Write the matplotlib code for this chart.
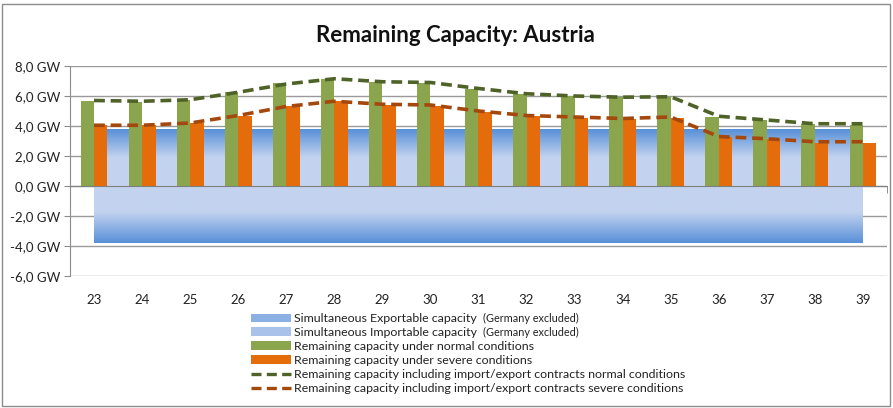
import matplotlib.pyplot as plt
import numpy as np
from matplotlib.colors import LinearSegmentedColormap
from matplotlib.patches import Patch, Rectangle
from matplotlib.lines import Line2D

plt.rcParams['font.family'] = ['Lato', 'DejaVu Sans']

# Data (GW)
weeks = ["23", "24", "25", "26", "27", "28", "29", "30", "31",
         "32", "33", "34", "35", "36", "37", "38", "39"]
exportable = [3.8] * 17
importable = [-3.8] * 17
normal = [5.70, 5.60, 5.72, 6.28, 6.84, 7.15, 6.95, 6.86, 6.48,
          6.14, 5.99, 5.92, 5.92, 4.58, 4.38, 4.16, 4.09]
severe = [4.10, 4.05, 4.20, 4.69, 5.32, 5.65, 5.43, 5.32, 4.94,
          4.65, 4.54, 4.49, 4.56, 3.30, 3.13, 2.90, 2.86]
normal_contracts = [5.70, 5.65, 5.75, 6.25, 6.80, 7.15, 6.95, 6.90, 6.50,
                    6.15, 6.00, 5.92, 5.95, 4.65, 4.40, 4.15, 4.15]
severe_contracts = [4.05, 4.05, 4.20, 4.70, 5.30, 5.65, 5.45, 5.40, 5.00,
                    4.70, 4.60, 4.50, 4.60, 3.30, 3.15, 2.95, 2.95]

# Colours
dark_blue = "#5890d8"
light_blue = "#c3d3ef"
green = "#8aa54e"
orange = "#e46c0a"
green_dash = "#4f6228"
orange_dash = "#a4480e"

fig = plt.figure(figsize=(8.93, 4.08), dpi=100)
ax = fig.add_axes([70 / 893, 1 - 276 / 408, 817 / 893, 210 / 408])

x = np.arange(len(weeks))

# Gradient-filled capacity areas
cmap = LinearSegmentedColormap.from_list("blues", [light_blue, dark_blue])
area_exp = ax.fill_between(x, 0, exportable, facecolor="none", edgecolor="none", zorder=1)
area_imp = ax.fill_between(x, 0, importable, facecolor="none", edgecolor="none", zorder=1)

grad_exp = np.clip((np.linspace(0, 1, 200) - 0.5) / 0.5, 0, 1)[:, None]
im = ax.imshow(grad_exp, cmap=cmap, aspect="auto", origin="lower",
               extent=[x[0], x[-1], 0, max(exportable)], zorder=1, vmin=0, vmax=1)
im.set_clip_path(area_exp.get_paths()[0], transform=ax.transData)

grad_imp = np.clip((np.linspace(1, 0, 200) - 0.45) / 0.55, 0, 1)[:, None]
im2 = ax.imshow(grad_imp, cmap=cmap, aspect="auto", origin="lower",
                extent=[x[0], x[-1], min(importable), 0], zorder=1, vmin=0, vmax=1)
im2.set_clip_path(area_imp.get_paths()[0], transform=ax.transData)

# Bars
w = 0.28
ax.bar(x - w / 2, normal, w, color=green, zorder=3)
ax.bar(x + w / 2, severe, w, color=orange, zorder=3)

# Dashed lines
ax.plot(x, normal_contracts, color=green_dash, lw=2.6, dashes=(3, 1.6), zorder=4)
ax.plot(x, severe_contracts, color=orange_dash, lw=2.6, dashes=(3, 1.6), zorder=4)

# Axes styling
ax.set_xlim(-0.5, len(weeks) - 0.5)
ax.set_ylim(-6, 8)
ax.set_yticks(np.arange(-6, 9, 2))
ax.set_yticklabels([f"{v:.1f} GW".replace(".", ",") for v in np.arange(-6, 9, 2)])
ax.yaxis.grid(True, color="#9a9a9a", lw=1)
ax.set_axisbelow(True)
for s in ["top", "right"]:
    ax.spines[s].set_visible(False)
ax.spines["left"].set_color("#8c8c8c")
ax.spines["bottom"].set_position(("data", 0))
ax.spines["bottom"].set_color("#7f7f7f")
ax.spines["bottom"].set_zorder(5)
ax.set_xticks(x)
ax.set_xticklabels(weeks)
ax.set_xticks(np.arange(-0.5, len(weeks), 1), minor=True)
ax.tick_params(axis="x", which="major", length=0, pad=78, labelsize=9.5, colors="#222222")
ax.tick_params(axis="x", which="minor", length=5, color="#7f7f7f", direction="out")
ax.tick_params(axis="y", length=4, color="#8c8c8c", labelsize=9.5, pad=3, labelcolor="#222222")

fig.text(455 / 893, 1 - 35 / 408, "Remaining Capacity: Austria", ha="center", va="center",
         fontsize=16, fontweight="bold", color="#111111")

# Legend
handles = [Patch(facecolor="#8ab0e4"), Patch(facecolor="#a9c2ea"),
           Patch(facecolor=green), Patch(facecolor=orange),
           Line2D([], [], color=green_dash, lw=2.4, dashes=(3, 1.6)),
           Line2D([], [], color=orange_dash, lw=2.4, dashes=(3, 1.6))]
labels = ["Simultaneous Exportable capacity", "Simultaneous Importable capacity",
          "Remaining capacity under normal conditions",
          "Remaining capacity under severe conditions",
          "Remaining capacity including import/export contracts normal conditions",
          "Remaining capacity including import/export contracts severe conditions"]
leg = fig.legend(handles, labels, loc="upper left", bbox_to_anchor=(245 / 893, 1 - 307 / 408),
                 frameon=False, fontsize=8.9, handlelength=3.2, handleheight=0.7,
                 labelspacing=0.24, handletextpad=0.25, borderpad=0)
for t in leg.get_texts():
    t.set_color("#222222")

fig.canvas.draw()
r = fig.canvas.get_renderer()
for t in leg.get_texts()[:2]:
    bb = t.get_window_extent(r)
    fig.text((bb.x1 + 6) / 893, (bb.y0 + bb.y1) / 2 / 408, "(Germany excluded)",
             fontsize=7.8, va="center", ha="left", color="#222222")

# Outer border
fig.patches.append(Rectangle((2 / 893, 2 / 408), 888 / 893, 402 / 408, transform=fig.transFigure,
                             fill=False, edgecolor="#8c8c8c", lw=1))

fig.savefig("out.png", dpi=100)
